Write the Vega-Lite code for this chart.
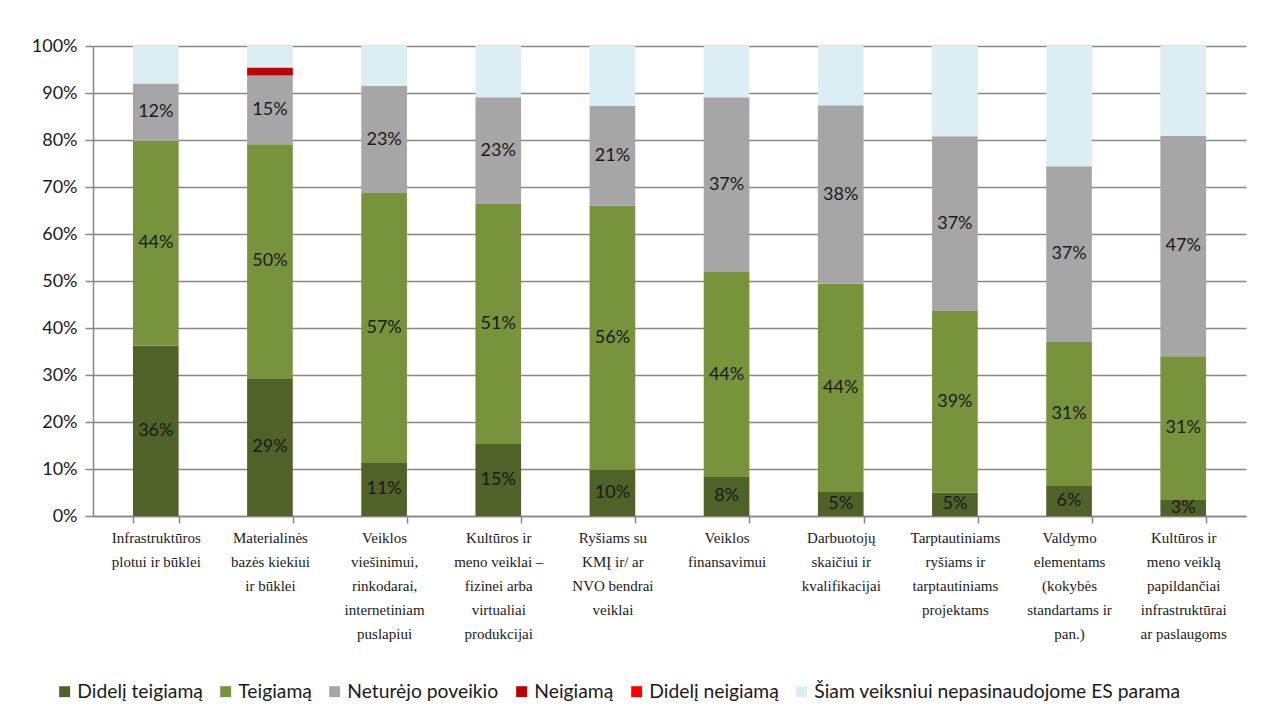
{
  "$schema": "https://vega.github.io/schema/vega-lite/v6.json",
  "width": 1153,
  "height": 470,
  "autosize": {"type": "none"},
  "padding": {"left": 93, "top": 46, "right": 25, "bottom": 204},
  "background": "white",
  "config": {
    "view": {"stroke": null}
  },
  "data": {
    "values": [
      {"k": "Infrastruktūros|plotui ir būklei", "s": "Didelį teigiamą", "o": 1, "v": 0.362},
      {"k": "Infrastruktūros|plotui ir būklei", "s": "Teigiamą", "o": 2, "v": 0.436},
      {"k": "Infrastruktūros|plotui ir būklei", "s": "Neturėjo poveikio", "o": 3, "v": 0.122},
      {"k": "Infrastruktūros|plotui ir būklei", "s": "Šiam veiksniui nepasinaudojome ES parama", "o": 6, "v": 0.080},
      {"k": "Materialinės|bazės  kiekiui|ir būklei", "s": "Didelį teigiamą", "o": 1, "v": 0.293},
      {"k": "Materialinės|bazės  kiekiui|ir būklei", "s": "Teigiamą", "o": 2, "v": 0.498},
      {"k": "Materialinės|bazės  kiekiui|ir būklei", "s": "Neturėjo poveikio", "o": 3, "v": 0.146},
      {"k": "Materialinės|bazės  kiekiui|ir būklei", "s": "Neigiamą", "o": 4, "v": 0.017},
      {"k": "Materialinės|bazės  kiekiui|ir būklei", "s": "Šiam veiksniui nepasinaudojome ES parama", "o": 6, "v": 0.046},
      {"k": "Veiklos|viešinimui,|rinkodarai,|internetiniam|puslapiui", "s": "Didelį teigiamą", "o": 1, "v": 0.113},
      {"k": "Veiklos|viešinimui,|rinkodarai,|internetiniam|puslapiui", "s": "Teigiamą", "o": 2, "v": 0.574},
      {"k": "Veiklos|viešinimui,|rinkodarai,|internetiniam|puslapiui", "s": "Neturėjo poveikio", "o": 3, "v": 0.228},
      {"k": "Veiklos|viešinimui,|rinkodarai,|internetiniam|puslapiui", "s": "Šiam veiksniui nepasinaudojome ES parama", "o": 6, "v": 0.085},
      {"k": "Kultūros ir|meno veiklai –|fizinei arba|virtualiai|produkcijai", "s": "Didelį teigiamą", "o": 1, "v": 0.153},
      {"k": "Kultūros ir|meno veiklai –|fizinei arba|virtualiai|produkcijai", "s": "Teigiamą", "o": 2, "v": 0.511},
      {"k": "Kultūros ir|meno veiklai –|fizinei arba|virtualiai|produkcijai", "s": "Neturėjo poveikio", "o": 3, "v": 0.227},
      {"k": "Kultūros ir|meno veiklai –|fizinei arba|virtualiai|produkcijai", "s": "Šiam veiksniui nepasinaudojome ES parama", "o": 6, "v": 0.109},
      {"k": "Ryšiams su|KMĮ ir/ ar|NVO bendrai|veiklai", "s": "Didelį teigiamą", "o": 1, "v": 0.098},
      {"k": "Ryšiams su|KMĮ ir/ ar|NVO bendrai|veiklai", "s": "Teigiamą", "o": 2, "v": 0.562},
      {"k": "Ryšiams su|KMĮ ir/ ar|NVO bendrai|veiklai", "s": "Neturėjo poveikio", "o": 3, "v": 0.213},
      {"k": "Ryšiams su|KMĮ ir/ ar|NVO bendrai|veiklai", "s": "Šiam veiksniui nepasinaudojome ES parama", "o": 6, "v": 0.127},
      {"k": "Veiklos|finansavimui", "s": "Didelį teigiamą", "o": 1, "v": 0.083},
      {"k": "Veiklos|finansavimui", "s": "Teigiamą", "o": 2, "v": 0.436},
      {"k": "Veiklos|finansavimui", "s": "Neturėjo poveikio", "o": 3, "v": 0.372},
      {"k": "Veiklos|finansavimui", "s": "Šiam veiksniui nepasinaudojome ES parama", "o": 6, "v": 0.109},
      {"k": "Darbuotojų|skaičiui ir|kvalifikacijai", "s": "Didelį teigiamą", "o": 1, "v": 0.051},
      {"k": "Darbuotojų|skaičiui ir|kvalifikacijai", "s": "Teigiamą", "o": 2, "v": 0.443},
      {"k": "Darbuotojų|skaičiui ir|kvalifikacijai", "s": "Neturėjo poveikio", "o": 3, "v": 0.380},
      {"k": "Darbuotojų|skaičiui ir|kvalifikacijai", "s": "Šiam veiksniui nepasinaudojome ES parama", "o": 6, "v": 0.126},
      {"k": "Tarptautiniams|ryšiams ir|tarptautiniams|projektams", "s": "Didelį teigiamą", "o": 1, "v": 0.050},
      {"k": "Tarptautiniams|ryšiams ir|tarptautiniams|projektams", "s": "Teigiamą", "o": 2, "v": 0.386},
      {"k": "Tarptautiniams|ryšiams ir|tarptautiniams|projektams", "s": "Neturėjo poveikio", "o": 3, "v": 0.372},
      {"k": "Tarptautiniams|ryšiams ir|tarptautiniams|projektams", "s": "Šiam veiksniui nepasinaudojome ES parama", "o": 6, "v": 0.192},
      {"k": "Valdymo|elementams|(kokybės|standartams ir|pan.)", "s": "Didelį teigiamą", "o": 1, "v": 0.064},
      {"k": "Valdymo|elementams|(kokybės|standartams ir|pan.)", "s": "Teigiamą", "o": 2, "v": 0.306},
      {"k": "Valdymo|elementams|(kokybės|standartams ir|pan.)", "s": "Neturėjo poveikio", "o": 3, "v": 0.374},
      {"k": "Valdymo|elementams|(kokybės|standartams ir|pan.)", "s": "Šiam veiksniui nepasinaudojome ES parama", "o": 6, "v": 0.256},
      {"k": "Kultūros ir|meno veiklą|papildančiai|infrastruktūrai|ar paslaugoms", "s": "Didelį teigiamą", "o": 1, "v": 0.034},
      {"k": "Kultūros ir|meno veiklą|papildančiai|infrastruktūrai|ar paslaugoms", "s": "Teigiamą", "o": 2, "v": 0.306},
      {"k": "Kultūros ir|meno veiklą|papildančiai|infrastruktūrai|ar paslaugoms", "s": "Neturėjo poveikio", "o": 3, "v": 0.469},
      {"k": "Kultūros ir|meno veiklą|papildančiai|infrastruktūrai|ar paslaugoms", "s": "Šiam veiksniui nepasinaudojome ES parama", "o": 6, "v": 0.191}
    ]
  },
  "encoding": {
    "x": {
      "field": "k",
      "type": "nominal",
      "sort": null,
      "scale": {"paddingInner": 0.6, "paddingOuter": 0.35},
      "axis": {
        "title": null,
        "labelAngle": 0,
        "labelExpr": "split(datum.label, '|')",
        "labelFont": "'Liberation Serif', 'Times New Roman', 'DejaVu Serif', serif",
        "labelFontSize": 15,
        "labelLineHeight": 24,
        "labelColor": "#1a1a1a",
        "labelPadding": 7,
        "labelBaseline": "top",
        "labelLimit": 200,
        "tickBand": "extent",
        "tickColor": "#868686",
        "tickSize": 7,
        "tickWidth": 1.5,
        "domainColor": "#868686",
        "domainWidth": 1.5,
        "grid": false
      }
    },
    "y": {
      "field": "v",
      "type": "quantitative",
      "stack": "zero",
      "scale": {"domain": [0, 1], "nice": false},
      "axis": {
        "title": null,
        "values": [0, 0.1, 0.2, 0.3, 0.4, 0.5, 0.6, 0.7, 0.8, 0.9, 1],
        "format": ".0%",
        "labelFont": "Lato",
        "labelFontSize": 18,
        "labelColor": "#1a1a1a",
        "labelPadding": 8,
        "tickColor": "#868686",
        "tickSize": 8,
        "tickWidth": 1.5,
        "domainColor": "#868686",
        "domainWidth": 1.5,
        "grid": true,
        "gridColor": "#878787",
        "gridWidth": 1.6
      }
    },
    "order": {"field": "o", "type": "quantitative"}
  },
  "layer": [
    {
      "mark": {"type": "bar"},
      "encoding": {
        "color": {
          "field": "s",
          "type": "nominal",
          "scale": {
            "domain": ["Didelį teigiamą", "Teigiamą", "Neturėjo poveikio", "Neigiamą", "Didelį neigiamą", "Šiam veiksniui nepasinaudojome ES parama"],
            "range": ["#4f6228", "#77933c", "#a6a6a6", "#c00000", "#ff0000", "#dbeef4"]
          },
          "legend": {
            "title": null,
            "orient": "none",
            "direction": "horizontal",
            "legendX": -38,
            "legendY": 636,
            "symbolType": "square",
            "symbolSize": 120,
            "symbolStrokeWidth": 0,
            "labelFont": "Lato",
            "labelFontSize": 19.3,
            "labelColor": "#1a1a1a",
            "labelOffset": 3,
            "labelLimit": 600,
            "columnPadding": 13
          }
        }
      }
    },
    {
      "transform": [{"filter": "datum.o <= 3"}],
      "mark": {"type": "text", "font": "Lato", "fontSize": 18, "color": "#1a1a1a", "baseline": "middle"},
      "encoding": {
        "y": {"field": "v", "type": "quantitative", "stack": "zero", "bandPosition": 0.5},
        "detail": {"field": "s"},
        "text": {"field": "v", "type": "quantitative", "format": ".0%"}
      }
    }
  ]
}
